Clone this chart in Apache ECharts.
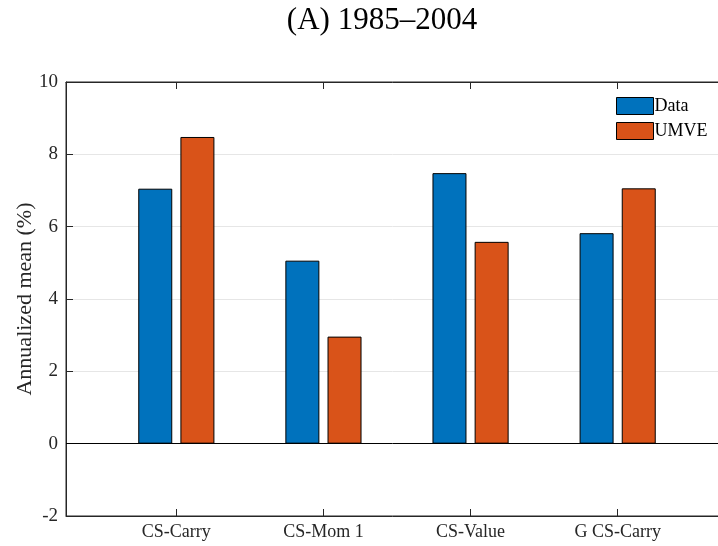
<!DOCTYPE html>
<html>
<head>
<meta charset="utf-8">
<script src="https://cdn.jsdelivr.net/npm/echarts@6/dist/echarts.min.js"></script>
<style>
  html, body { margin: 0; padding: 0; background: #fff; }
  #chart { width: 718px; height: 546px; }
</style>
</head>
<body>
<div id="chart"></div>
<script>
// Annualized mean returns by strategy, 1985–2004
const categories = ['CS-Carry', 'CS-Mom 1', 'CS-Value', 'G CS-Carry'];
const dataValues = [7.05, 5.06, 7.48, 5.82];
const umveValues = [8.48, 2.96, 5.58, 7.06];
const yTicks = [-2, 0, 2, 4, 6, 8, 10];

const positions = categories.map((_, i) => i + 1);
const font = '"Liberation Serif", "DejaVu Serif", serif';
const axisColor = '#262626';

const chart = echarts.init(document.getElementById('chart'), null, { renderer: 'canvas' });

chart.setOption({
  animation: false,
  backgroundColor: '#fff',
  graphic: [{
    type: 'text',
    x: 382, y: 21,
    style: {
      text: '(A) 1985\u20132004',
      fontFamily: font,
      fontSize: 31,
      fill: '#000',
      textAlign: 'center',
      textVerticalAlign: 'middle'
    }
  }],
  legend: {
    data: ['Data', 'UMVE'],
    orient: 'vertical',
    left: 611,
    top: 92,
    icon: 'rect',
    itemWidth: 37,
    itemHeight: 17,
    itemGap: 7,
    itemStyle: { borderColor: '#000', borderWidth: 1 },
    textStyle: { fontFamily: font, fontSize: 18, color: '#000', padding: [0, 0, 0, -4] }
  },
  grid: {
    left: 66, right: -10, top: 82, bottom: 30,
    outerBoundsMode: 'none',
    containLabel: false,
    show: true, borderColor: axisColor, borderWidth: 1
  },
  xAxis: [{
    type: 'value',
    min: 0.25, max: 4.75,
    axisLine: { show: true, onZero: false, lineStyle: { color: axisColor } },
    axisTick: { show: true, inside: true, length: 7, customValues: positions, lineStyle: { color: axisColor } },
    axisLabel: {
      customValues: positions,
      formatter: v => categories[Math.round(v) - 1] || '',
      fontFamily: font, fontSize: 18, color: '#262626', margin: 7
    },
    splitLine: { show: false }
  }, {
    type: 'value',
    position: 'top',
    min: 0.25, max: 4.75,
    axisLine: { show: true, onZero: false, lineStyle: { color: axisColor } },
    axisTick: { show: true, inside: true, length: 7, customValues: positions, lineStyle: { color: axisColor } },
    axisLabel: { show: false },
    splitLine: { show: false }
  }],
  yAxis: {
    type: 'value',
    min: yTicks[0], max: yTicks[yTicks.length - 1], interval: 2,
    name: 'Annualized mean (%)',
    nameLocation: 'middle',
    nameGap: 30,
    nameMoveOverlap: false,
    nameTextStyle: { fontFamily: font, fontSize: 22, color: '#262626' },
    axisLine: { show: true, onZero: false, lineStyle: { color: axisColor } },
    axisTick: { show: true, inside: true, length: 7, lineStyle: { color: axisColor } },
    axisLabel: {
      fontFamily: font, fontSize: 19, color: '#262626', margin: 8,
      formatter: v => String(v)
    },
    splitLine: { show: true, lineStyle: { color: '#e6e6e6', width: 1 } }
  },
  series: [{
    name: 'Data',
    type: 'bar',
    barWidth: 34,
    barGap: '24%',
    data: positions.map((x, i) => [x, dataValues[i]]),
    itemStyle: { color: '#0072BD', borderColor: '#000', borderWidth: 1 },
    markLine: {
      silent: true,
      symbol: ['none', 'none'],
      label: { show: false },
      lineStyle: { color: '#000', width: 1, type: 'solid' },
      data: [{ yAxis: 0 }]
    }
  }, {
    name: 'UMVE',
    type: 'bar',
    barWidth: 34,
    barGap: '24%',
    data: positions.map((x, i) => [x, umveValues[i]]),
    itemStyle: { color: '#D95319', borderColor: '#000', borderWidth: 1 }
  }]
});
</script>
</body>
</html>
